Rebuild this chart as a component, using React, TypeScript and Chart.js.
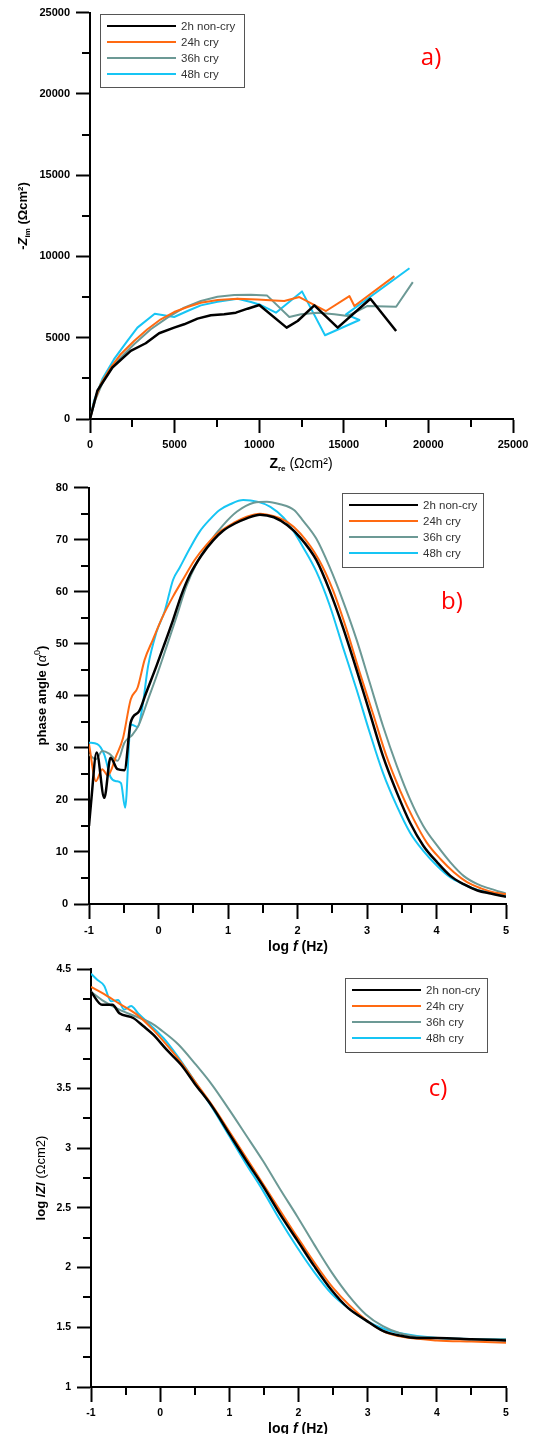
import React, { useEffect, useRef } from "react";
import { Chart, registerables } from "chart.js";

Chart.register(...registerables);

// ---------- series meta ----------
const seriesLabels = ["2h non-cry", "24h cry", "36h cry", "48h cry"];
const seriesColors = ["#000000", "#FF6A12", "#6C9995", "#17C5F4"];

// ---------- a) Nyquist: Zre / -Zim (Ωcm²) ----------
const nyq2hRe = [0, 434, 1322, 2407, 3295, 4084, 4972, 5564, 6353, 7142, 7931, 8622, 9313, 10003, 11621, 12272, 13259, 14640, 16573, 18092];
const nyq2hIm = [0, 1737, 3168, 4190, 4660, 5274, 5621, 5825, 6173, 6377, 6439, 6541, 6786, 7011, 5621, 6030, 6990, 5621, 7399, 5417];
const nyq24hRe = [0, 237, 631, 1223, 1815, 2604, 3394, 4183, 4972, 5761, 6550, 7537, 8721, 9904, 10891, 11483, 12371, 13949, 15330, 15626, 17994];
const nyq24hIm = [0, 1022, 2146, 3168, 3986, 4803, 5519, 6132, 6582, 6888, 7154, 7317, 7399, 7358, 7297, 7256, 7501, 6643, 7563, 6949, 8789];
const nyq36hRe = [0, 335, 829, 1618, 2604, 3591, 4577, 5564, 6550, 7537, 8523, 9510, 10457, 11779, 12469, 13456, 14442, 15232, 16376, 18092, 19079];
const nyq36hIm = [0, 1226, 2453, 3577, 4599, 5519, 6234, 6847, 7256, 7522, 7624, 7644, 7604, 6275, 6439, 6541, 6439, 6336, 6949, 6908, 8421];
const nyq48hRe = [0, 237, 730, 1421, 2210, 2802, 3828, 4972, 5761, 6550, 7537, 8721, 9510, 10102, 10990, 12529, 13890, 15922, 15133, 18881];
const nyq48hIm = [0, 1124, 2453, 3679, 4803, 5621, 6479, 6275, 6643, 6990, 7215, 7399, 7195, 7011, 6541, 7849, 5151, 6091, 6439, 9275];
const nyqTicks = [0, 5000, 10000, 15000, 20000, 25000];

// ---------- b) Bode phase: log f / phase angle ----------
const ph2hLogF = [-1.0, -0.97, -0.89, -0.78, -0.69, -0.59, -0.49, -0.40, -0.28, -0.18, -0.03, 0.09, 0.21, 0.33, 0.45, 0.62, 0.79, 0.93, 1.10, 1.27, 1.46, 1.66, 1.85, 2.04, 2.27, 2.46, 2.65, 2.85, 3.04, 3.23, 3.43, 3.62, 3.81, 4.01, 4.20, 4.39, 4.59, 4.78, 5.0];
const ph2hDeg = [15.0, 19.5, 29.1, 20.4, 28.1, 25.9, 25.7, 34.9, 37.0, 40.5, 45.7, 50.1, 54.6, 59.4, 63.2, 67.0, 69.9, 71.7, 73.1, 74.1, 74.8, 74.3, 72.8, 70.4, 66.1, 60.3, 53.3, 45.0, 36.7, 28.4, 21.4, 15.6, 11.2, 8.0, 5.4, 3.8, 2.6, 2.0, 1.4];
const ph24hLogF = [-1.0, -0.90, -0.81, -0.73, -0.61, -0.51, -0.40, -0.30, -0.20, -0.08, 0.06, 0.21, 0.35, 0.52, 0.69, 0.88, 1.08, 1.27, 1.46, 1.66, 1.85, 2.04, 2.31, 2.51, 2.70, 2.89, 3.09, 3.28, 3.48, 3.67, 3.86, 4.06, 4.25, 4.44, 4.64, 4.83, 5.0];
const ph24hDeg = [30.7, 23.6, 25.9, 24.7, 28.4, 31.9, 39.3, 41.6, 46.9, 50.8, 55.2, 59.1, 62.3, 66.1, 69.0, 71.5, 73.2, 74.4, 75.0, 74.5, 73.4, 71.2, 66.1, 60.3, 53.0, 44.7, 36.4, 28.4, 21.7, 16.3, 11.8, 8.6, 6.1, 4.2, 3.0, 2.2, 1.9];
const ph36hLogF = [-1.0, -0.90, -0.81, -0.71, -0.59, -0.49, -0.37, -0.28, -0.15, -0.03, 0.11, 0.26, 0.40, 0.55, 0.74, 0.93, 1.13, 1.37, 1.56, 1.75, 1.95, 2.07, 2.27, 2.46, 2.65, 2.85, 3.04, 3.23, 3.43, 3.62, 3.81, 4.01, 4.20, 4.39, 4.59, 4.78, 5.0];
const ph36hDeg = [28.7, 27.8, 29.4, 28.9, 27.5, 31.0, 32.6, 34.5, 39.3, 43.7, 49.2, 55.2, 61.0, 65.5, 69.6, 72.8, 75.4, 77.1, 77.3, 76.8, 75.7, 73.8, 70.2, 64.8, 58.4, 50.8, 42.5, 34.2, 26.5, 20.1, 15.0, 11.2, 8.0, 5.4, 3.8, 2.9, 2.0];
const ph48hLogF = [-1.0, -0.88, -0.78, -0.69, -0.61, -0.54, -0.48, -0.40, -0.30, -0.23, -0.15, -0.03, 0.09, 0.21, 0.30, 0.45, 0.59, 0.74, 0.88, 1.03, 1.22, 1.42, 1.61, 1.80, 1.95, 2.07, 2.27, 2.46, 2.65, 2.85, 3.04, 3.23, 3.43, 3.62, 3.81, 4.01, 4.20, 4.39, 4.59, 4.78, 5.0];
const ph48hDeg = [31.0, 30.7, 28.7, 24.4, 23.6, 23.2, 18.5, 34.5, 34.0, 38.0, 45.7, 52.2, 56.3, 62.3, 64.5, 68.3, 71.5, 73.9, 75.7, 76.8, 77.6, 77.3, 76.3, 74.2, 71.5, 68.8, 63.9, 57.5, 49.5, 41.2, 32.9, 25.2, 18.8, 13.7, 10.2, 7.3, 5.1, 3.8, 2.7, 2.2, 1.7];
const logFTicks = [-1, 0, 1, 2, 3, 4, 5];
const phaseTicks = [0, 10, 20, 30, 40, 50, 60, 70, 80];

// ---------- c) Bode modulus: log f / log |Z| ----------
const mod2hLogF = [-1.0, -0.84, -0.69, -0.59, -0.39, -0.24, -0.10, 0.10, 0.30, 0.50, 0.75, 1.0, 1.24, 1.49, 1.73, 1.98, 2.23, 2.48, 2.72, 2.97, 3.22, 3.47, 3.71, 4.01, 4.50, 5.0];
const mod2hLogZ = [4.31, 4.20, 4.20, 4.13, 4.09, 4.02, 3.95, 3.82, 3.70, 3.54, 3.35, 3.12, 2.90, 2.68, 2.45, 2.23, 2.01, 1.81, 1.66, 1.56, 1.47, 1.43, 1.41, 1.41, 1.40, 1.39];
const mod24hLogF = [-1.0, -0.84, -0.59, -0.34, -0.10, 0.10, 0.30, 0.50, 0.75, 1.0, 1.5, 2.0, 2.5, 3.0, 3.25, 3.5, 4.0, 4.5, 5.0];
const mod24hLogZ = [4.35, 4.30, 4.21, 4.12, 3.99, 3.86, 3.72, 3.56, 3.36, 3.14, 2.69, 2.24, 1.83, 1.55, 1.46, 1.42, 1.39, 1.38, 1.37];
const mod36hLogF = [-1.0, -0.84, -0.59, -0.34, -0.14, 0.01, 0.26, 0.50, 0.75, 1.0, 1.24, 1.49, 1.73, 1.98, 2.23, 2.48, 2.72, 2.97, 3.22, 3.47, 3.71, 4.01, 4.5, 5.0];
const mod36hLogZ = [4.31, 4.24, 4.16, 4.10, 4.05, 3.99, 3.87, 3.71, 3.53, 3.32, 3.11, 2.89, 2.66, 2.43, 2.19, 1.96, 1.77, 1.61, 1.51, 1.45, 1.42, 1.41, 1.40, 1.40];
const mod48hLogF = [-1.0, -0.91, -0.81, -0.71, -0.61, -0.52, -0.42, -0.32, -0.14, 0.05, 0.25, 0.50, 0.75, 0.99, 1.24, 1.49, 1.73, 1.98, 2.23, 2.48, 2.72, 2.97, 3.22, 3.47, 4.01, 5.0];
const mod48hLogZ = [4.46, 4.41, 4.36, 4.23, 4.24, 4.16, 4.19, 4.13, 4.03, 3.92, 3.77, 3.56, 3.34, 3.11, 2.87, 2.64, 2.40, 2.17, 1.96, 1.78, 1.66, 1.56, 1.49, 1.45, 1.41, 1.40];
const logZTicks = [1, 1.5, 2, 2.5, 3, 3.5, 4, 4.5];

// ---------- helpers ----------
const SANS = "'Liberation Sans', Arial, sans-serif";

type Seg = { t: string; f: string; dy?: number };

function drawRich(ctx: CanvasRenderingContext2D, segs: Seg[], cx: number, cy: number, vertical: boolean, base: number) {
  ctx.save();
  ctx.translate(cx, cy);
  if (vertical) ctx.rotate(-Math.PI / 2);
  const widths = segs.map((s) => {
    ctx.font = s.f;
    return ctx.measureText(s.t).width;
  });
  const total = widths.reduce((a, b) => a + b, 0);
  let x = -total / 2;
  ctx.textAlign = "left";
  ctx.textBaseline = "alphabetic";
  ctx.fillStyle = "#000";
  segs.forEach((s, i) => {
    ctx.font = s.f;
    ctx.fillText(s.t, x, base + (s.dy || 0));
    x += widths[i];
  });
  ctx.restore();
}

const decoPlugin = {
  id: "deco",
  afterDraw(chart: any, _args: any, o: any) {
    const ctx: CanvasRenderingContext2D = chart.ctx;
    const xs = chart.scales.x;
    const ys = chart.scales.y;
    const area = chart.chartArea;
    ctx.save();
    ctx.strokeStyle = "#000";
    ctx.lineWidth = 2;
    const minor = (min: number, max: number, step: number, major: number, cb: (v: number) => void) => {
      const n = Math.round((max - min) / step);
      for (let i = 0; i <= n; i++) {
        const v = min + i * step;
        const r = v / major;
        if (Math.abs(r - Math.round(r)) < 1e-6) continue;
        cb(v);
      }
    };
    minor(xs.min, xs.max, o.xMinor, o.xMajor, (v) => {
      const px = Math.round(xs.getPixelForValue(v));
      ctx.beginPath();
      ctx.moveTo(px, area.bottom);
      ctx.lineTo(px, area.bottom + o.xMinorLen);
      ctx.stroke();
    });
    minor(ys.min, ys.max, o.yMinor, o.yMajor, (v) => {
      const py = Math.round(ys.getPixelForValue(v));
      ctx.beginPath();
      ctx.moveTo(area.left, py);
      ctx.lineTo(area.left - o.yMinorLen, py);
      ctx.stroke();
    });
    ctx.restore();

    drawRich(ctx, o.xTitle, o.xTitlePos[0], o.xTitlePos[1], false, 5);
    drawRich(ctx, o.yTitle, o.yTitlePos[0], o.yTitlePos[1], true, 5);

    const lg = o.legend;
    ctx.save();
    ctx.fillStyle = "#fff";
    ctx.fillRect(lg.x, lg.y, lg.w, lg.h);
    ctx.strokeStyle = "#555";
    ctx.lineWidth = 1;
    ctx.strokeRect(lg.x + 0.5, lg.y + 0.5, lg.w, lg.h);
    chart.data.datasets.forEach((ds: any, i: number) => {
      const ry = lg.y + 12 + i * 16;
      ctx.strokeStyle = ds.borderColor;
      ctx.lineWidth = 2;
      ctx.beginPath();
      ctx.moveTo(lg.x + 7, ry);
      ctx.lineTo(lg.x + 76, ry);
      ctx.stroke();
      ctx.fillStyle = "#333";
      ctx.font = `11.5px ${SANS}`;
      ctx.textAlign = "left";
      ctx.textBaseline = "middle";
      ctx.fillText(ds.label, lg.x + 81, ry + 0.5);
    });
    ctx.restore();

    ctx.save();
    ctx.fillStyle = "#FF0000";
    ctx.font = `24px 'Open Sans', 'Noto Sans', sans-serif`;
    ctx.textAlign = "center";
    ctx.textBaseline = "middle";
    ctx.fillText(o.tag, o.tagPos[0], o.tagPos[1]);
    ctx.restore();
  },
};

type PanelSpec = {
  height: number;
  xs: number[][];
  ys: number[][];
  xMin: number;
  xMax: number;
  yMin: number;
  yMax: number;
  xTicks: number[];
  yTicks: number[];
  yWidth: number;
  pad: { top: number; right: number; bottom: number };
  xTickLen: number;
  yTickLen: number;
  tickFont: number;
  smooth: boolean;
  deco: any;
};

function buildConfig(p: PanelSpec): any {
  const datasets = seriesLabels.map((label, i) => ({
    label,
    data: p.xs[i].map((x, k) => ({ x, y: p.ys[i][k] })),
    borderColor: seriesColors[i],
    backgroundColor: seriesColors[i],
    borderWidth: i === 0 ? 2.5 : 2,
    borderJoinStyle: "round",
    showLine: true,
    pointRadius: 0,
    pointHoverRadius: 0,
    tension: p.smooth ? 0.4 : 0,
    cubicInterpolationMode: p.smooth ? "monotone" : "default",
    fill: false,
  }));
  const tickFont = { family: SANS, size: p.tickFont, weight: "bold" as const };
  return {
    type: "scatter",
    data: { datasets },
    plugins: [decoPlugin],
    options: {
      animation: false,
      responsive: false,
      maintainAspectRatio: false,
      events: [],
      layout: { padding: { left: 0, top: p.pad.top, right: p.pad.right, bottom: p.pad.bottom } },
      plugins: {
        legend: { display: false },
        tooltip: { enabled: false },
        title: { display: false },
        deco: p.deco,
      },
      scales: {
        x: {
          type: "linear",
          min: p.xMin,
          max: p.xMax,
          afterBuildTicks: (s: any) => {
            s.ticks = p.xTicks.map((v) => ({ value: v }));
          },
          afterFit: (s: any) => {
            s.height = 40;
          },
          ticks: {
            font: tickFont,
            color: "#000",
            padding: 5,
            maxRotation: 0,
            autoSkip: false,
            callback: (v: any) => String(v),
          },
          grid: {
            display: true,
            drawOnChartArea: false,
            drawTicks: true,
            tickLength: p.xTickLen,
            tickWidth: 2,
            tickColor: "#000",
            color: "#000",
          },
          border: { display: true, color: "#000", width: 2 },
        },
        y: {
          type: "linear",
          min: p.yMin,
          max: p.yMax,
          afterBuildTicks: (s: any) => {
            s.ticks = p.yTicks.map((v) => ({ value: v }));
          },
          afterFit: (s: any) => {
            s.width = p.yWidth;
          },
          ticks: {
            font: tickFont,
            color: "#000",
            padding: 6,
            autoSkip: false,
            callback: (v: any) => String(v),
          },
          grid: {
            display: true,
            drawOnChartArea: false,
            drawTicks: true,
            tickLength: p.yTickLen,
            tickWidth: 2,
            tickColor: "#000",
            color: "#000",
          },
          border: { display: true, color: "#000", width: 2 },
        },
      },
    },
  };
}

const B13 = `bold 13px ${SANS}`;
const R13 = `13px ${SANS}`;

const panelA: PanelSpec = {
  height: 475,
  xs: [nyq2hRe, nyq24hRe, nyq36hRe, nyq48hRe],
  ys: [nyq2hIm, nyq24hIm, nyq36hIm, nyq48hIm],
  xMin: 0,
  xMax: 25000,
  yMin: 0,
  yMax: 25000,
  xTicks: nyqTicks,
  yTicks: nyqTicks,
  yWidth: 90,
  pad: { top: 12, right: 23, bottom: 16 },
  xTickLen: 14,
  yTickLen: 14,
  tickFont: 11,
  smooth: false,
  deco: {
    xMinor: 2500, xMajor: 5000, xMinorLen: 8,
    yMinor: 2500, yMajor: 5000, yMinorLen: 8,
    xTitle: [
      { t: "Z", f: `bold 14px ${SANS}` },
      { t: "re", f: `bold 8px ${SANS}`, dy: 3 },
      { t: " (Ωcm²)", f: `14px ${SANS}` },
    ],
    xTitlePos: [301, 463],
    yTitle: [
      { t: "-", f: B13 },
      { t: "Z", f: `italic bold 13px ${SANS}` },
      { t: "im", f: `bold 8px ${SANS}`, dy: 3 },
      { t: " (Ωcm²)", f: B13 },
    ],
    yTitlePos: [22, 216],
    legend: { x: 100, y: 14, w: 144, h: 73 },
    tag: "a)",
    tagPos: [431, 58],
  },
};

const panelB: PanelSpec = {
  height: 480,
  xs: [ph2hLogF, ph24hLogF, ph36hLogF, ph48hLogF],
  ys: [ph2hDeg, ph24hDeg, ph36hDeg, ph48hDeg],
  xMin: -1,
  xMax: 5,
  yMin: 0,
  yMax: 80,
  xTicks: logFTicks,
  yTicks: phaseTicks,
  yWidth: 89,
  pad: { top: 12, right: 30, bottom: 11 },
  xTickLen: 15,
  yTickLen: 15,
  tickFont: 11,
  smooth: true,
  deco: {
    xMinor: 0.5, xMajor: 1, xMinorLen: 9,
    yMinor: 5, yMajor: 10, yMinorLen: 8,
    xTitle: [
      { t: "log ", f: `bold 14px ${SANS}` },
      { t: "f", f: `italic bold 14px ${SANS}` },
      { t: " (Hz)", f: `bold 14px ${SANS}` },
    ],
    xTitlePos: [298, 471],
    yTitle: [
      { t: "phase angle (", f: B13 },
      { t: "α", f: `italic 13px ${SANS}` },
      { t: "0", f: `9px ${SANS}`, dy: -6 },
      { t: ")", f: B13 },
    ],
    yTitlePos: [40.5, 220.5],
    legend: { x: 342, y: 18, w: 141, h: 74 },
    tag: "b)",
    tagPos: [452, 127],
  },
};

const panelC: PanelSpec = {
  height: 479,
  xs: [mod2hLogF, mod24hLogF, mod36hLogF, mod48hLogF],
  ys: [mod2hLogZ, mod24hLogZ, mod36hLogZ, mod48hLogZ],
  xMin: -1,
  xMax: 5,
  yMin: 1,
  yMax: 4.5,
  xTicks: logFTicks,
  yTicks: logZTicks,
  yWidth: 91,
  pad: { top: 14, right: 30, bottom: 7 },
  xTickLen: 15,
  yTickLen: 14,
  tickFont: 10.5,
  smooth: true,
  deco: {
    xMinor: 0.5, xMajor: 1, xMinorLen: 8,
    yMinor: 0.25, yMajor: 0.5, yMinorLen: 8,
    xTitle: [
      { t: "log ", f: `bold 14px ${SANS}` },
      { t: "f", f: `italic bold 14px ${SANS}` },
      { t: " (Hz)", f: `bold 14px ${SANS}` },
    ],
    xTitlePos: [298, 473],
    yTitle: [
      { t: "log /", f: B13 },
      { t: "Z", f: `italic bold 13px ${SANS}` },
      { t: "/", f: B13 },
      { t: " (Ωcm2)", f: R13 },
    ],
    yTitlePos: [40, 223],
    legend: { x: 345, y: 23, w: 142, h: 74 },
    tag: "c)",
    tagPos: [438, 134],
  },
};

function Panel({ spec, top }: { spec: PanelSpec; top: number }) {
  const ref = useRef<HTMLCanvasElement | null>(null);
  useEffect(() => {
    if (!ref.current) return;
    const chart = new Chart(ref.current, buildConfig(spec));
    return () => chart.destroy();
  }, [spec]);
  return (
    <canvas
      ref={ref}
      width={536}
      height={spec.height}
      style={{ position: "absolute", left: 0, top, width: 536, height: spec.height, display: "block" }}
    />
  );
}

export default function App() {
  return (
    <div
      style={{
        position: "fixed",
        left: 0,
        top: 0,
        width: 536,
        height: 1434,
        background: "#fff",
        overflow: "hidden",
      }}
    >
      <Panel spec={panelA} top={0} />
      <Panel spec={panelB} top={475} />
      <Panel spec={panelC} top={955} />
    </div>
  );
}
